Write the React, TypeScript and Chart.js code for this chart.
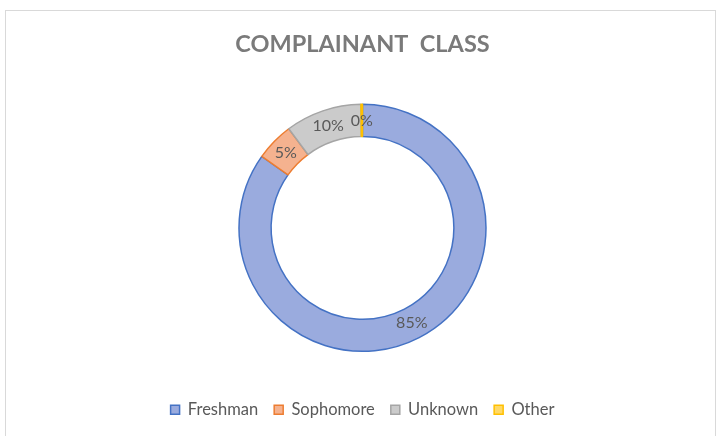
import React, { useEffect, useRef } from "react";
import { Chart, registerables } from "chart.js";

Chart.register(...registerables);

const categories = ["Freshman", "Sophomore", "Unknown", "Other"];
const shares = [85, 5, 10, 0.2];
const fillColors = ["#9aabde", "#f5b28f", "#cbcbcb", "#ffd966"];
const borderColors = ["#4472c4", "#ed7d31", "#a5a5a5", "#ffc000"];
const titleText = "COMPLAINANT  CLASS";

const FONT = "Lato, 'Liberation Sans', sans-serif";

const labelPlugin = {
  id: "sliceLabels",
  afterDatasetsDraw(chart: any) {
    const ctx = chart.ctx;
    const meta = chart.getDatasetMeta(0);
    const data = chart.data.datasets[0].data as number[];
    const total = data.reduce((a, b) => a + b, 0);
    ctx.save();
    ctx.font = `16px ${FONT}`;
    ctx.fillStyle = "#595959";
    ctx.textAlign = "center";
    ctx.textBaseline = "middle";
    meta.data.forEach((arc: any, i: number) => {
      const p = arc.tooltipPosition();
      const pct = Math.round((data[i] / total) * 100);
      ctx.fillText(`${pct}%`, p.x, p.y);
    });
    ctx.restore();
  },
};

export default function App() {
  const ref = useRef<HTMLCanvasElement>(null);
  useEffect(() => {
    if (!ref.current) return;
    const chart = new Chart(ref.current, {
      type: "doughnut",
      data: {
        labels: categories,
        datasets: [
          {
            data: shares,
            backgroundColor: fillColors,
            borderColor: borderColors,
            borderWidth: 1.5,
          },
        ],
      },
      options: {
        responsive: false,
        animation: false,
        events: [],
        radius: 123.5,
        cutout: "74%",
        layout: { padding: { left: 9, right: 0, top: 10, bottom: 8 } },
        plugins: {
          tooltip: { enabled: false },
          title: {
            display: true,
            text: titleText,
            color: "#7a7a7a",
            font: { family: FONT, size: 23.5, weight: "bold" },
            padding: { top: 20, bottom: 12 },
          },
          legend: {
            position: "bottom",
            labels: {
              boxWidth: 9,
              boxHeight: 9,
              padding: 16,
              color: "#595959",
              font: { family: FONT, size: 16.5 },
            },
          },
        },
      } as any,
      plugins: [labelPlugin],
    });
    return () => chart.destroy();
  }, []);
  return (
    <div style={{ position: "fixed", left: 0, top: 0, width: 716, height: 436, background: "#fff" }}>
      <div
        style={{
          position: "absolute",
          left: 5,
          top: 10,
          width: 711,
          height: 440,
          boxSizing: "border-box",
          borderLeft: "1px solid #d9d9d9",
          borderTop: "1px solid #d9d9d9",
          borderRight: "1px solid #d9d9d9",
        }}
      />
      <canvas ref={ref} width={716} height={436} style={{ position: "absolute", left: 0, top: 0 }} />
    </div>
  );
}
